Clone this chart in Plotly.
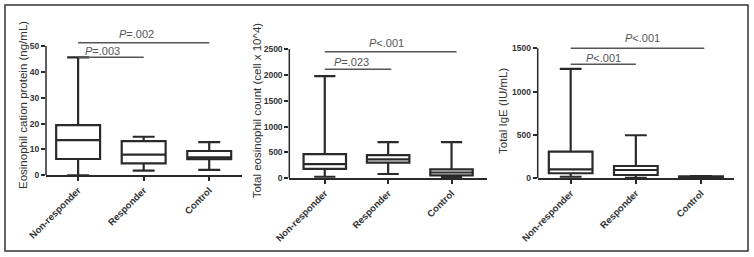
import plotly.graph_objects as go

# ---------------- data ----------------
categories = ["Non-responder", "Responder", "Control"]

# Panel 1: Eosinophil cation protein (ng/mL)
ecp_lower = [0.0, 1.8, 2.1]
ecp_q1 = [6.3, 4.6, 6.2]
ecp_median = [13.6, 8.0, 6.9]
ecp_q3 = [19.4, 13.2, 9.4]
ecp_upper = [45.6, 14.9, 12.8]

# Panel 2: Total eosinophil count (cell x 10^4)
eos_lower = [30, 83, 20]
eos_q1 = [183, 305, 55]
eos_median = [276, 367, 112]
eos_q3 = [469, 447, 173]
eos_upper = [1975, 700, 700]

# Panel 3: Total IgE (IU/mL)
ige_lower = [18, 5, 3]
ige_q1 = [58, 38, 10]
ige_median = [104, 96, 15]
ige_q3 = [307, 142, 22]
ige_upper = [1264, 497, 25]

y_titles = ["Eosinophil cation protein (ng/mL)",
            "Total eosinophil count (cell x 10^4)",
            "Total IgE (IU/mL)"]
y_ticks = [[0, 10, 20, 30, 40, 50],
           [0, 500, 1000, 1500, 2000, 2500],
           [0, 500, 1000, 1500]]

# significance brackets: (x0, x1, y) and label (x, y, text)
ecp_brackets = [(0, 2, 51.3), (0, 1, 45.6)]
ecp_labels = [(0.89, 54.6, "<i>P</i>=.002"), (0.37, 48.2, "<i>P</i>=.003")]
eos_brackets = [(0, 2.08, 2448), (0, 1.05, 2107)]
eos_labels = [(0.98, 2616, "<i>P</i><.001"), (0.42, 2254, "<i>P</i>=.023")]
ige_brackets = [(0, 2.05, 1500), (0, 1.0, 1315)]
ige_labels = [(1.1, 1619, "<i>P</i><.001"), (0.51, 1391, "<i>P</i><.001")]

# ---------------- layout geometry ----------------
W, H = 754, 257
def px_x(p):
    return p / W
def px_y(p):
    return 1 - p / H

panels = [
    dict(xd=[px_x(46), px_x(242)], yd=[px_y(175.3), px_y(25.3)], xr=[-0.49, 2.5], yr=[0, 58]),
    dict(xd=[px_x(289.3), px_x(487)], yd=[px_y(178.3), px_y(35.6)], xr=[-0.56, 2.56], yr=[0, 2760]),
    dict(xd=[px_x(537.7), px_x(734)], yd=[px_y(178.3), px_y(31.0)], xr=[-0.506, 2.506], yr=[0, 1700]),
]
title_pos = [(23, 105), (257.3, 110), (503, 111)]

INK = "#2a2a2a"
GRAY = "#555555"
FONT = "Liberation Sans, Arial, sans-serif"

datasets = [
    (ecp_lower, ecp_q1, ecp_median, ecp_q3, ecp_upper),
    (eos_lower, eos_q1, eos_median, eos_q3, eos_upper),
    (ige_lower, ige_q1, ige_median, ige_q3, ige_upper),
]
brackets = [ecp_brackets, eos_brackets, ige_brackets]
labels = [ecp_labels, eos_labels, ige_labels]

fig = go.Figure()
shapes = []
annotations = []

for i, (lo, q1, med, q3, up) in enumerate(datasets):
    sfx = "" if i == 0 else str(i + 1)
    fig.add_trace(go.Box(
        x=categories, lowerfence=lo, q1=q1, median=med, q3=q3, upperfence=up,
        xaxis="x" + sfx, yaxis="y" + sfx,
        width=0.67, whiskerwidth=0.5,
        fillcolor="white", line=dict(color=INK, width=2.2),
        boxpoints=False, showlegend=False, hoverinfo="skip",
    ))
    p = panels[i]
    fig.update_layout(**{
        "xaxis" + sfx: dict(
            domain=p["xd"], anchor="y" + sfx, range=p["xr"], automargin=False,
            type="category", categoryorder="array", categoryarray=categories,
            showline=True, linecolor=INK, linewidth=1.5,
            ticks="outside", ticklen=4, tickwidth=1.5, tickcolor=INK,
            tickangle=-45, showgrid=False, zeroline=False,
            tickfont=dict(family=FONT, size=9.5, color="#333333", weight="bold"),
        ),
        "yaxis" + sfx: dict(
            domain=p["yd"], anchor="x" + sfx, range=p["yr"], automargin=False,
            tickvals=y_ticks[i], showline=False,
            ticks="outside", ticklen=4, tickwidth=1.5, tickcolor=INK,
            showgrid=False, zeroline=False,
            tickfont=dict(family=FONT, size=8.5, color="#333333", weight="bold"),
        ),
    })
    # y axis line from 0 to the top tick
    shapes.append(dict(type="line", xref="paper", yref="y" + sfx,
                       x0=p["xd"][0], x1=p["xd"][0], y0=0, y1=y_ticks[i][-1],
                       line=dict(color=INK, width=1.5)))
    for (x0, x1, yv) in brackets[i]:
        shapes.append(dict(type="line", xref="x" + sfx, yref="y" + sfx,
                           x0=x0, x1=x1, y0=yv, y1=yv,
                           line=dict(color=GRAY, width=1.5)))
    for (xv, yv, txt) in labels[i]:
        annotations.append(dict(xref="x" + sfx, yref="y" + sfx, x=xv, y=yv,
                                text=txt, showarrow=False,
                                font=dict(family=FONT, size=11, color=GRAY)))
    tx, ty = title_pos[i]
    annotations.append(dict(xref="paper", yref="paper", x=px_x(tx), y=px_y(ty),
                            text=y_titles[i], textangle=-90, showarrow=False,
                            xanchor="center", yanchor="middle",
                            font=dict(family=FONT, size=11.5, color="#333333")))

# outer frame
shapes.append(dict(type="rect", xref="paper", yref="paper",
                   x0=px_x(5), x1=px_x(748), y0=px_y(251), y1=px_y(5),
                   line=dict(color="#333333", width=1.5)))

fig.update_layout(
    template="none",
    width=W, height=H, margin=dict(l=0, r=0, t=0, b=0, autoexpand=False),
    paper_bgcolor="white", plot_bgcolor="white",
    shapes=shapes, annotations=annotations,
    font=dict(family=FONT),
)

fig.write_html("out.html", config={"displayModeBar": False},
               post_script="document.body.style.margin='0';document.body.style.overflow='hidden';")
